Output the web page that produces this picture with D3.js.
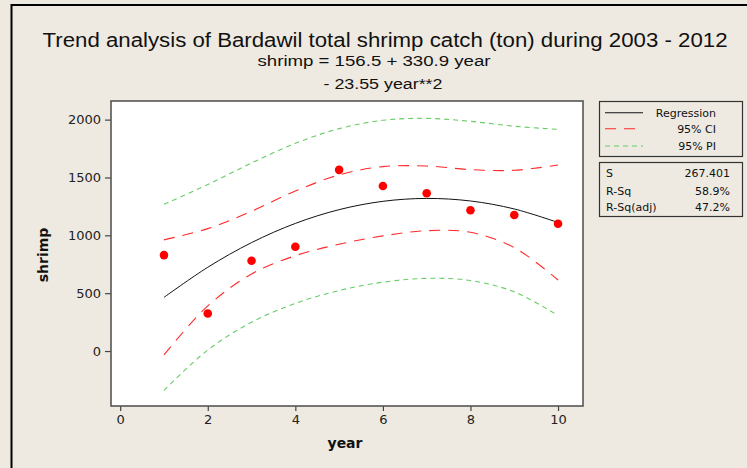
<!DOCTYPE html>
<html><head><meta charset="utf-8">
<script src="https://cdn.jsdelivr.net/npm/d3@7"></script>
<style>html,body{margin:0;padding:0;background:#eeeae1;}svg{display:block;}</style>
</head><body>
<svg id="c" width="747" height="468"></svg>
<script>
const years = [1,2,3,4,5,6,7,8,9,10];
const shrimp = [829, 324, 780, 901, 1566, 1427, 1364, 1217, 1176, 1100];
const fitted = [464, 724, 937, 1103, 1222, 1294, 1319, 1297, 1228, 1111];
const ciLow = [-33, 390, 666, 824, 923, 995, 1040, 1026, 894, 614];
const ciHigh = [961, 1058, 1208, 1383, 1522, 1594, 1599, 1568, 1562, 1608];
const piLow = [-340, 9, 249, 412, 523, 595, 628, 609, 512, 307];
const piHigh = [1268, 1439, 1625, 1795, 1922, 1994, 2011, 1985, 1943, 1916];
const xTicks = [0,2,4,6,8,10];
const yTicks = [0,500,1000,1500,2000];
const legendItems = [
  {label:"Regression", key:"reg"},
  {label:"95% CI", key:"ci"},
  {label:"95% PI", key:"pi"}
];
const statLabels = ["S","R-Sq","R-Sq(adj)"];
const statValues = ["267.401","58.9%","47.2%"];

const styles = {
  reg:{stroke:"#111", dash:null, width:1},
  ci:{stroke:"#ff2a2a", dash:"11,8", width:1.1},
  pi:{stroke:"#66cc66", dash:"5,4", width:1.1}
};

const svg = d3.select("#c");
svg.append("rect").attr("width",747).attr("height",468).attr("fill","#eeeae1");
// outer frame
svg.append("path").attr("d","M11.5,468 L11.5,5 L747,5").attr("fill","none").attr("stroke","#000").attr("stroke-width",2);

const P = {l:111, r:583, t:101, b:406};
const x = d3.scaleLinear().domain([-0.21,10.57]).range([P.l,P.r]);
const y = d3.scaleLinear().domain([-475,2161]).range([P.b,P.t]);

svg.append("rect").attr("x",P.l).attr("y",P.t).attr("width",P.r-P.l).attr("height",P.b-P.t)
  .attr("fill","#fff");

const font = "'DejaVu Sans', sans-serif";
const gx = svg.append("g").attr("transform",`translate(0,${P.b})`)
  .call(d3.axisBottom(x).tickValues(xTicks).tickSize(5).tickPadding(4).tickFormat(d3.format("d")));
const gy = svg.append("g").attr("transform",`translate(${P.l},0)`)
  .call(d3.axisLeft(y).tickValues(yTicks).tickSize(6).tickPadding(4).tickFormat(d3.format("d")));
[gx,gy].forEach(g=>{
  g.select(".domain").remove();
  g.selectAll("line").attr("stroke","#444").attr("stroke-width",1.2);
  g.selectAll("text").attr("fill","#222").style("font-family",font).style("font-size","13px");
});

const line = arr => d3.line().x((d,i)=>x(years[i])).y(d=>y(d)).curve(d3.curveCatmullRom)(arr);
const drawLine = (arr,key)=>{
  const s = styles[key];
  svg.append("path").attr("d",line(arr)).attr("fill","none").attr("stroke",s.stroke)
    .attr("stroke-width",s.width).attr("stroke-dasharray",s.dash);
};
drawLine(piHigh,"pi"); drawLine(piLow,"pi");
drawLine(ciHigh,"ci"); drawLine(ciLow,"ci");
drawLine(fitted,"reg");

svg.append("g").selectAll("circle").data(shrimp).join("circle")
  .attr("cx",(d,i)=>x(years[i])).attr("cy",d=>y(d)).attr("r",4.3).attr("fill","#ff0000");

// plot frame
svg.append("rect").attr("x",P.l).attr("y",P.t).attr("width",P.r-P.l).attr("height",P.b-P.t)
  .attr("fill","none").attr("stroke","#555").attr("stroke-width",1.6);

// titles
const tfont = "'Liberation Sans', Arial, sans-serif";
svg.append("text").attr("x",385).attr("y",47).attr("text-anchor","middle")
  .attr("textLength",685).attr("lengthAdjust","spacingAndGlyphs")
  .style("font-family",tfont).style("font-size","20px").attr("fill","#111")
  .text("Trend analysis of Bardawil total shrimp catch (ton) during 2003 - 2012");
svg.append("text").attr("x",374).attr("y",66).attr("text-anchor","middle")
  .attr("textLength",233).attr("lengthAdjust","spacingAndGlyphs")
  .style("font-family",tfont).style("font-size","14px").attr("fill","#111")
  .text("shrimp =  156.5 + 330.9 year");
svg.append("text").attr("x",383).attr("y",89).attr("text-anchor","middle")
  .attr("textLength",119).attr("lengthAdjust","spacingAndGlyphs")
  .style("font-family",tfont).style("font-size","14px").attr("fill","#111")
  .text("- 23.55 year**2");

// axis labels
svg.append("text").attr("x",345).attr("y",448).attr("text-anchor","middle")
  .style("font-family",font).style("font-size","14px").style("font-weight","bold").attr("fill","#111")
  .text("year");
svg.append("text").attr("transform","translate(48,255) rotate(-90)").attr("text-anchor","middle")
  .style("font-family",font).style("font-size","14px").style("font-weight","bold").attr("fill","#111")
  .text("shrimp");

// legend
const L = {x:599, w:143};
svg.append("rect").attr("x",L.x+0.5).attr("y",101.5).attr("width",L.w).attr("height",55)
  .attr("fill","none").attr("stroke","#333").attr("stroke-width",1.2);
const rowsY = [112.7,128.7,146];
legendItems.forEach((it,i)=>{
  const s = styles[it.key];
  svg.append("line").attr("x1",605).attr("x2",643).attr("y1",rowsY[i]).attr("y2",rowsY[i])
    .attr("stroke",s.stroke).attr("stroke-width",1.1).attr("stroke-dasharray",s.dash);
  svg.append("text").attr("x",716).attr("y",rowsY[i]+4).attr("text-anchor","end")
    .style("font-family",font).style("font-size","11px").attr("fill","#111").text(it.label);
});
svg.append("rect").attr("x",L.x+0.5).attr("y",162.5).attr("width",L.w).attr("height",54)
  .attr("fill","none").attr("stroke","#333").attr("stroke-width",1.2);
const statY = [173.3,190.7,206.7];
statLabels.forEach((lab,i)=>{
  svg.append("text").attr("x",606).attr("y",statY[i]+4)
    .style("font-family",font).style("font-size","11px").attr("fill","#111").text(lab);
  svg.append("text").attr("x",730).attr("y",statY[i]+4).attr("text-anchor","end")
    .style("font-family",font).style("font-size","11px").attr("fill","#111").text(statValues[i]);
});
</script>
</body></html>
